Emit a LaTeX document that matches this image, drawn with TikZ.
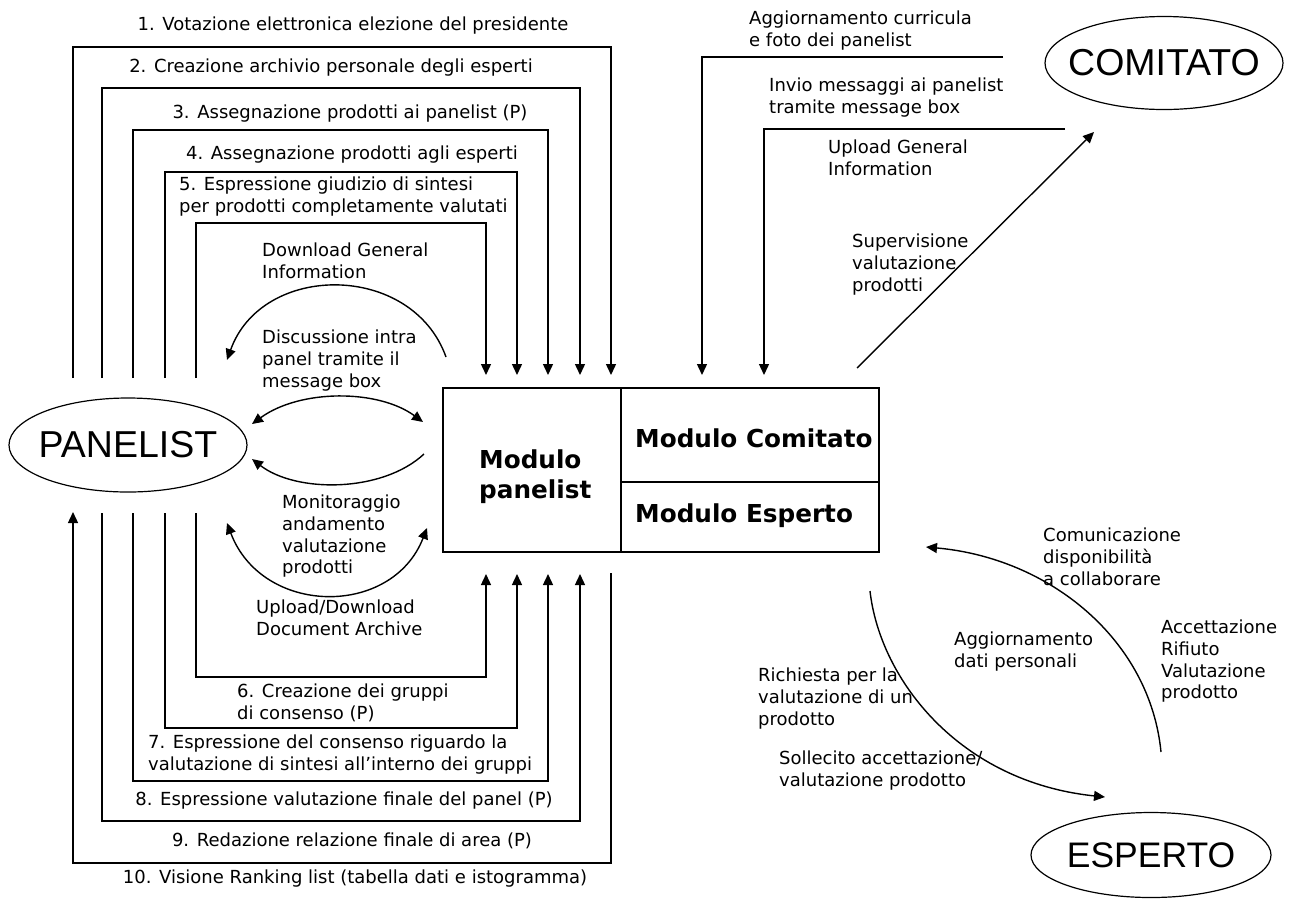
\documentclass[tikz,border=0pt]{standalone}
\usepackage{fontspec}
\setmainfont{DejaVu Sans}
\newfontfamily\bigfont{Liberation Sans}
\usetikzlibrary{shapes.geometric,arrows.meta}
\begin{document}
\begin{tikzpicture}[x=1pt,y=-1pt,
  ln/.style={line width=1.4pt},
  arr/.style={ln,-{Triangle[length=11pt,width=10pt]}},
  darr/.style={ln,{Triangle[length=11pt,width=10pt]}-{Triangle[length=11pt,width=10pt]}},
  lbl/.style={font=\fontsize{18}{21.7}\selectfont,inner sep=0pt,align=left,anchor=north west},
  tlbl/.style={font=\fontsize{18}{21.7}\selectfont,inner sep=0pt,anchor=base},
  ent/.style={ellipse,draw,line width=1.2pt,inner sep=0pt,font=\bigfont\fontsize{37.5}{40}\selectfont},
  cell/.style={draw,line width=1.4pt,inner sep=0pt},
  bold/.style={font=\bfseries\fontsize{24.7}{31}\selectfont,inner sep=0pt,align=left}
]
\useasboundingbox (0,0) rectangle (1289,906);

% entities
\node[ent,minimum width=238pt,minimum height=94pt] (pan) at (128,445) {\makebox[0pt]{PANELIST}};
\node[ent,minimum width=238pt,minimum height=93pt] (com) at (1164,63) {\makebox[0pt]{COMITATO}};
\node[ent,minimum width=240pt,minimum height=85pt,font=\bigfont\fontsize{35.5}{40}\selectfont] (esp) at (1151,855) {\makebox[0pt]{ESPERTO}};

% module box
\node[cell,minimum width=178pt,minimum height=164pt] (mp) at (532,470) {};
\node[cell,minimum width=258pt,minimum height=94pt] (mc) at (750,435) {};
\node[cell,minimum width=258pt,minimum height=70pt] (me) at (750,517) {};
\node[bold,anchor=base west] (tmp1) at (479,468) {Modulo};
\node[bold,anchor=base west] (tmp2) at (479,498) {panelist};
\node[bold,anchor=base west] (tmc) at (635,447) {Modulo Comitato};
\node[bold,anchor=base west] (tme) at (635,522) {Modulo Esperto};

% loop coordinates: top
\coordinate (p1) at (73,378);  \coordinate (m1) at (611,375);
\coordinate (p2) at (102,378); \coordinate (m2) at (580,375);
\coordinate (p3) at (133,378); \coordinate (m3) at (548,375);
\coordinate (p4) at (165,378); \coordinate (m4) at (517,375);
\coordinate (p5) at (196,378); \coordinate (m5) at (486,375);
\draw[arr] (p1) |- (300,47)  -| (m1);
\draw[arr] (p2) |- (300,88)  -| (m2);
\draw[arr] (p3) |- (300,130) -| (m3);
\draw[arr] (p4) |- (300,172) -| (m4);
\draw[arr] (p5) |- (300,223) -| (m5);

% loop coordinates: bottom
\coordinate (q6) at (196,513); \coordinate (n6) at (486,574);
\coordinate (q7) at (165,513); \coordinate (n7) at (517,574);
\coordinate (q8) at (133,513); \coordinate (n8) at (548,574);
\coordinate (q9) at (102,513); \coordinate (n9) at (580,574);
\coordinate (q10) at (73,512); \coordinate (n10) at (611,573);
\draw[arr] (q6) |- (300,677) -| (n6);
\draw[arr] (q7) |- (300,728) -| (n7);
\draw[arr] (q8) |- (300,781) -| (n8);
\draw[arr] (q9) |- (300,821) -| (n9);
\draw[arr] (n10) |- (300,863) -| (q10);

% loop labels
\node[tlbl] (l1) at (353,30.5) {1. Votazione elettronica elezione del presidente};
\node[tlbl] (l2) at (331,72.5) {2. Creazione archivio personale degli esperti};
\node[tlbl] (l3) at (350,118.5) {3. Assegnazione prodotti ai panelist (P)};
\node[tlbl] (l4) at (352,159.5) {4. Assegnazione prodotti agli esperti};
\node[lbl] (l5) at (179,177) {5. Espressione giudizio di sintesi\\per prodotti completamente valutati};
\node[lbl] (l6) at (237,684) {6. Creazione dei gruppi\\di consenso (P)};
\node[lbl] (l7) at (148,735) {7. Espressione del consenso riguardo la\\valutazione di sintesi all’interno dei gruppi};
\node[tlbl] (l8) at (344,805.5) {8. Espressione valutazione finale del panel (P)};
\node[tlbl] (l9) at (352,846.5) {9. Redazione relazione finale di area (P)};
\node[tlbl] (l10) at (355,883.5) {10. Visione Ranking list (tabella dati e istogramma)};

% arcs panelist <-> module
\coordinate (a1s) at (446,357); \coordinate (a1e) at (227,360);
\draw[arr] (a1s) .. controls (412,262) and (262,262) .. (a1e);
\coordinate (a2s) at (252,424); \coordinate (a2e) at (423,422);
\draw[darr] (a2s) .. controls (300,389) and (378,389) .. (a2e);
\coordinate (a3s) at (424,454); \coordinate (a3e) at (252,459);
\draw[arr] (a3s) .. controls (382,493) and (296,493) .. (a3e);
\coordinate (a4s) at (227,523); \coordinate (a4e) at (427,528);
\draw[darr] (a4s) .. controls (262,616) and (392,618) .. (a4e);

\node[lbl] (tdgi) at (262,243) {Download General\\Information};
\node[lbl] (tdisc) at (262,330) {Discussione intra\\panel tramite il\\message box};
\node[lbl] (tmon) at (282,495) {Monitoraggio\\andamento\\valutazione\\prodotti};
\node[lbl] (tudd) at (256,600) {Upload/Download\\Document Archive};

% comitato side
\coordinate (c1s) at (1003,57);  \coordinate (c1e) at (702,375);
\coordinate (c2s) at (1065,129); \coordinate (c2e) at (764,375);
\draw[arr] (c1s) -| (c1e);
\draw[arr] (c2s) -| (c2e);
\coordinate (sups) at (857,368); \coordinate (supe) at (1094,132);
\draw[arr] (sups) -- (supe);
\node[lbl] (tagg) at (749,11) {Aggiornamento curricula\\e foto dei panelist};
\node[lbl] (tinv) at (769,78) {Invio messaggi ai panelist\\tramite message box};
\node[lbl] (tugi) at (828,140) {Upload General\\Information};
\node[lbl] (tsup) at (852,234) {Supervisione\\valutazione\\prodotti};

% esperto side
\coordinate (r1s) at (1161,752); \coordinate (r1e) at (926,547);
\draw[arr] (r1s) .. controls (1150,640) and (1050,558) .. (r1e);
\coordinate (r2s) at (870,591); \coordinate (r2e) at (1105,797);
\draw[arr] (r2s) .. controls (880,680) and (960,782) .. (r2e);
\node[lbl] (tcom) at (1043,528) {Comunicazione\\disponibilità\\a collaborare};
\node[lbl] (tacc) at (1161,620) {Accettazione\\Rifiuto\\Valutazione\\prodotto};
\node[lbl] (tadp) at (954,632) {Aggiornamento\\dati personali};
\node[lbl] (tric) at (758,668) {Richiesta per la\\valutazione di un\\prodotto};
\node[lbl] (tsol) at (779,751) {Sollecito accettazione/\\valutazione prodotto};
\end{tikzpicture}
\end{document}
